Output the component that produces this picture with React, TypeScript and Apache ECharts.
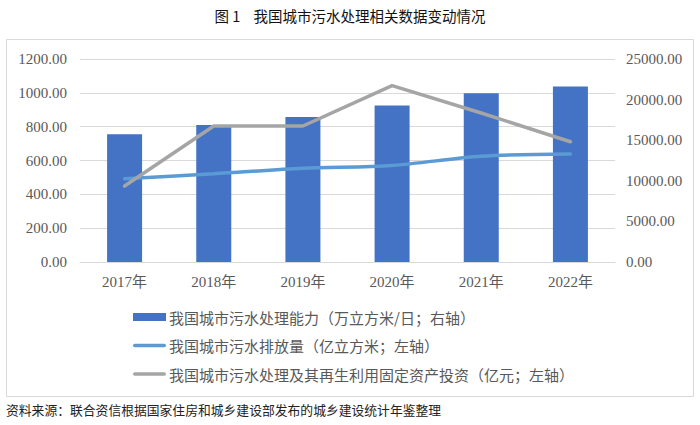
import React, { useEffect, useRef } from "react";
import * as echarts from "echarts";

const years = ["2017年", "2018年", "2019年", "2020年", "2021年", "2022年"];
const capacity = [15743, 16881, 17863, 19267, 20767, 21606];
const discharge = [492, 521, 554, 571, 625, 639];
const investment = [449, 804, 804, 1043, 881, 711];

const leftTicks = { min: 0, max: 1200, interval: 200 };
const rightTicks = { min: 0, max: 25000, interval: 5000 };

const nameCapacity = "我国城市污水处理能力（万立方米/日；右轴）";
const nameDischarge = "我国城市污水排放量（亿立方米；左轴）";
const nameInvest = "我国城市污水处理及其再生利用固定资产投资（亿元；左轴）";

const titleText = "图 1    我国城市污水处理相关数据变动情况";
const sourceText = "资料来源：联合资信根据国家住房和城乡建设部发布的城乡建设统计年鉴整理";

const SERIF = "'Liberation Serif', 'Noto Sans CJK SC', serif";
const SANS = "'Noto Sans CJK SC', sans-serif";
const LINE_ICON = "path://M1.75,0h29.5a1.75,1.75 0 0 1 0,3.5h-29.5a1.75,1.75 0 0 1 0,-3.5z";

export default function App() {
  const ref = useRef<HTMLDivElement>(null);
  useEffect(() => {
    if (!ref.current) return;
    const chart = echarts.init(ref.current, null, { renderer: "svg" });
    chart.setOption({
      animation: false,
      backgroundColor: "#ffffff",
      title: {
        text: titleText,
        left: "center",
        top: 3,
        textStyle: { fontFamily: SANS, fontSize: 14.5, fontWeight: "normal", color: "#111" },
      },
      graphic: [
        {
          type: "rect",
          shape: { x: 6.5, y: 39.5, width: 687, height: 357 },
          style: { fill: "none", stroke: "#d9d9d9", lineWidth: 1 },
          silent: true,
        },
        {
          type: "text",
          left: 6,
          top: 403,
          style: { text: sourceText, fontFamily: SANS, fontSize: 12.8, fill: "#222" },
        },
      ],
      grid: { left: 80, right: 85, top: 59, bottom: 163 },
      legend: {
        orient: "vertical",
        left: 128,
        top: 303,
        itemWidth: 33,
        itemHeight: 8,
        itemGap: 10.5,
        symbolKeepAspect: true,
        data: [
          { name: nameCapacity, icon: "rect" },
          { name: nameDischarge, icon: LINE_ICON },
          { name: nameInvest, icon: LINE_ICON },
        ],
        textStyle: {
          fontFamily: SANS,
          fontSize: 15,
          lineHeight: 18,
          color: "#595959",
          padding: [0, 0, 0, -2],
        },
      },
      xAxis: {
        type: "category",
        data: years,
        axisTick: { show: false },
        axisLine: { lineStyle: { color: "#d9d9d9" } },
        axisLabel: { fontFamily: SERIF, fontSize: 15, color: "#595959", margin: 12 },
      },
      yAxis: [
        {
          type: "value",
          min: leftTicks.min,
          max: leftTicks.max,
          interval: leftTicks.interval,
          axisLabel: {
            fontFamily: SERIF,
            fontSize: 15,
            color: "#595959",
            margin: 13,
            formatter: (v: number) => v.toFixed(2),
          },
          splitLine: { lineStyle: { color: "#d9d9d9" } },
          axisLine: { show: false },
          axisTick: { show: false },
        },
        {
          type: "value",
          min: rightTicks.min,
          max: rightTicks.max,
          interval: rightTicks.interval,
          position: "right",
          axisLabel: {
            fontFamily: SERIF,
            fontSize: 15,
            color: "#595959",
            margin: 11,
            formatter: (v: number) => v.toFixed(2),
          },
          splitLine: { show: false },
          axisLine: { show: false },
          axisTick: { show: false },
        },
      ],
      series: [
        {
          name: nameCapacity,
          type: "bar",
          yAxisIndex: 1,
          data: capacity,
          barWidth: 35,
          itemStyle: { color: "#4472C4" },
        },
        {
          name: nameDischarge,
          type: "line",
          yAxisIndex: 0,
          data: discharge,
          smooth: 0.3,
          symbol: "none",
          lineStyle: { color: "#5B9BD5", width: 3.5, cap: "round" },
          itemStyle: { color: "#5B9BD5" },
        },
        {
          name: nameInvest,
          type: "line",
          yAxisIndex: 0,
          data: investment,
          symbol: "none",
          lineStyle: { color: "#A5A5A5", width: 3.5, cap: "round" },
          itemStyle: { color: "#A5A5A5" },
        },
      ],
    });
    return () => chart.dispose();
  }, []);
  return (
    <div
      ref={ref}
      style={{ position: "fixed", left: 0, top: 0, width: 700, height: 425 }}
    />
  );
}
